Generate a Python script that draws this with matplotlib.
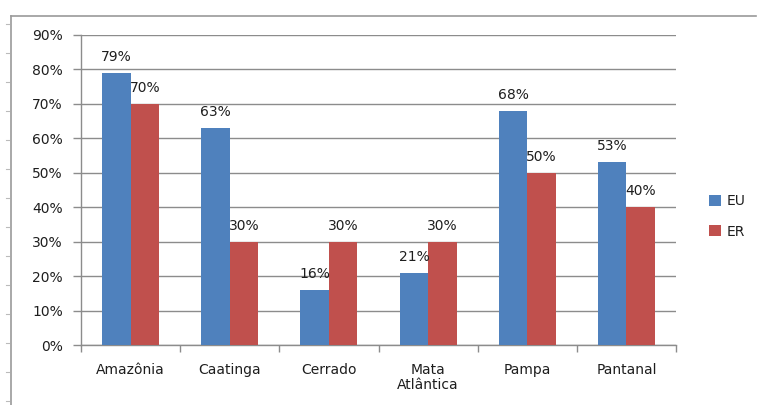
import matplotlib
matplotlib.use("Agg")
import matplotlib.pyplot as plt
from matplotlib.lines import Line2D
from matplotlib.ticker import FuncFormatter, MultipleLocator
import numpy as np

categories = ["Amazônia", "Caatinga", "Cerrado", "Mata\nAtlântica", "Pampa", "Pantanal"]
eu_values = [79, 63, 16, 21, 68, 53]
er_values = [70, 30, 30, 30, 50, 40]
series_names = ["EU", "ER"]

plt.rcParams["font.family"] = ["DejaVu Sans"]

blue = "#4F81BD"
red = "#C0504D"
grid = "#8C8C8C"
txt = "#1E1E1E"
fs = 10

fig = plt.figure(figsize=(7.58, 4.05), dpi=100)
ax = fig.add_axes([0.1069, 0.148, 0.785, 0.7656])

x = np.arange(len(categories))
w = 0.2875
b1 = ax.bar(x - w / 2, eu_values, w, color=blue, label=series_names[0], zorder=3)
b2 = ax.bar(x + w / 2, er_values, w, color=red, label=series_names[1], zorder=3)

for bars, vals in ((b1, eu_values), (b2, er_values)):
    for r, v in zip(bars, vals):
        ax.annotate(f"{v}%", (r.get_x() + r.get_width() / 2, v), xytext=(0, 6.5),
                    textcoords="offset points", ha="center", va="bottom",
                    fontsize=fs, color=txt, zorder=4)

ax.set_xlim(-0.5, len(categories) - 0.5)
ax.set_ylim(0, 90)
ax.yaxis.set_major_locator(MultipleLocator(10))
ax.yaxis.set_major_formatter(FuncFormatter(lambda v, p: f"{int(round(v))}%"))
ax.yaxis.grid(True, color=grid, linewidth=1, zorder=0)

ax.set_xticks(x)
ax.set_xticklabels(categories, fontsize=fs, color=txt, linespacing=1.05)
ax.tick_params(axis="x", length=0, pad=13)
ax.set_xticks(np.arange(len(categories) + 1) - 0.5, minor=True)
ax.tick_params(axis="x", which="minor", length=5, color=grid, width=1)
ax.tick_params(axis="y", length=6, color=grid, width=1, labelsize=fs, labelcolor=txt, pad=7)

for s in ("top", "right"):
    ax.spines[s].set_visible(False)
for s in ("left", "bottom"):
    ax.spines[s].set_color(grid)
    ax.spines[s].set_linewidth(1)

leg = ax.legend(loc="center left", bbox_to_anchor=(1.035, 0.415), frameon=False,
                fontsize=fs, handlelength=0.85, handleheight=0.85, handletextpad=0.4,
                labelspacing=1.2)
for t in leg.get_texts():
    t.set_color(txt)

# outer frame (top and left)
H, W = 405.0, 758.0
fig.add_artist(Line2D([11 / W, 756 / W], [1 - 16 / H, 1 - 16 / H], color="#9A9A9A", lw=1.2, transform=fig.transFigure))
fig.add_artist(Line2D([11 / W, 11 / W], [1 - 16 / H, 0], color="#9A9A9A", lw=1.2, transform=fig.transFigure))
for yy in range(24, 405, 29):
    fig.add_artist(Line2D([6 / W, 9 / W], [1 - yy / H, 1 - yy / H], color="#BBBBBB", lw=0.8, transform=fig.transFigure))

fig.savefig("out.png", dpi=100)
